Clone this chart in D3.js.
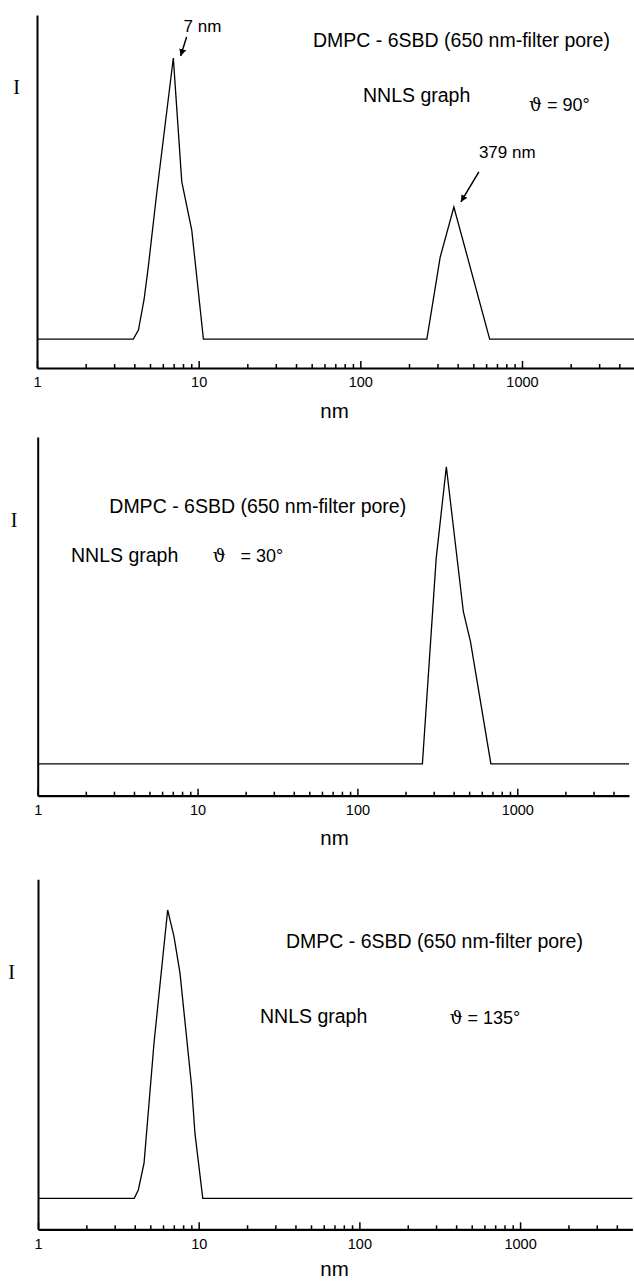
<!DOCTYPE html>
<html lang="en">
<head>
<meta charset="UTF-8">
<title>DMPC - 6SBD NNLS graphs</title>
<script src="https://cdn.jsdelivr.net/npm/d3@7"></script>
<style>
  body { margin: 0; background: #fff; }
  svg { display: block; }
  text { fill: #000; }
</style>
</head>
<body>
<div id="chart"></div>
<script>
// size axis (nm), log scale
const sizeDomain = [1, 5000];
const majorTicks = [1, 10, 100, 1000];

// intensity in arbitrary units, 0 = baseline
const theta90Size = [1, 3.94, 4.24, 4.59, 4.88, 5.5, 6.97, 7.86, 9.06, 10.7, 258, 312, 379, 631, 5000];
const theta90Intensity = [0, 0, 3.2, 13.9, 25.7, 51.8, 100, 56, 38.8, 0, 0, 29.2, 47, 0, 0];

const theta30Size = [1, 255, 311, 360, 460, 510, 684, 5000];
const theta30Intensity = [0, 0, 73.2, 105.8, 54.2, 43.5, 0, 0];

const theta135Size = [1, 3.97, 4.21, 4.57, 5.27, 6.41, 7.02, 7.65, 9.04, 9.48, 10.6, 5000];
const theta135Intensity = [0, 0, 3.0, 12.5, 55.2, 102.6, 93.1, 80.1, 39.7, 23.1, 0, 0];

const angleLabels = ["90°", "30°", "135°"];
const sampleLabel = "DMPC - 6SBD (650 nm-filter pore)";
const methodLabel = "NNLS graph";
const peakLabels = [{ size: 7, intensity: 100, text: "7 nm" }, { size: 379, intensity: 47, text: "379 nm" }];

const W = 634, H = 1281;
const sans = "'Liberation Sans', Arial, Helvetica, sans-serif";
const serif = "'Liberation Serif', 'Times New Roman', serif";

// panel layout
const panels = [
  { size: theta90Size, value: theta90Intensity, angle: angleLabels[0],
    xr: [37, 635], axisY: 368, topY: 15, yd: [-10.3, 115.3],
    iPos: [16.7, 94], title: [313, 47], method: [363, 101.7], theta: [529, 111], gap: " ",
    peaks: peakLabels },
  { size: theta30Size, value: theta30Intensity, angle: angleLabels[1],
    xr: [37.7, 629], axisY: 795.7, topY: 437, yd: [-11.3, 116.4],
    iPos: [14.2, 526.7], title: [109.3, 513.3], method: [71, 561.7], theta: [212.7, 561.7], gap: "   ",
    peaks: [] },
  { size: theta135Size, value: theta135Intensity, angle: angleLabels[2],
    xr: [38, 632.4], axisY: 1229.3, topY: 879.3, yd: [-11, 113.5],
    iPos: [11.7, 979], title: [286, 948.3], method: [260, 1023.3], theta: [449.7, 1024.3], gap: " ",
    peaks: [] }
];

const minorTicks = [];
for (let d = 1; d <= 1000; d *= 10)
  for (let m = 2; m <= 9; m++) if (d * m < sizeDomain[1]) minorTicks.push(d * m);

const svg = d3.select("#chart").append("svg")
  .attr("width", W).attr("height", H);

svg.append("defs").append("marker")
  .attr("id", "head")
  .attr("viewBox", "0 0 10 10")
  .attr("refX", 10).attr("refY", 5)
  .attr("markerWidth", 7).attr("markerHeight", 7)
  .attr("markerUnits", "userSpaceOnUse")
  .attr("orient", "auto")
  .append("path").attr("d", "M0,0L10,5L0,10z").attr("fill", "#000");

panels.forEach(p => {
  const g = svg.append("g");
  const x = d3.scaleLog().domain(sizeDomain).range(p.xr);
  const y = d3.scaleLinear().domain(p.yd).range([p.axisY, p.topY]);

  // y axis: bare line
  g.append("g")
    .attr("transform", `translate(${p.xr[0]},0)`)
    .call(d3.axisLeft(y).tickValues([]).tickSizeOuter(0))
    .select(".domain").attr("stroke-width", 2);

  // minor ticks
  g.append("g")
    .attr("transform", `translate(0,${p.axisY})`)
    .call(d3.axisBottom(x).tickValues(minorTicks).tickSize(-4).tickSizeOuter(0).tickFormat(""))
    .call(a => a.select(".domain").remove())
    .selectAll("line").attr("stroke-width", 1.5);

  // major ticks + labels
  const ax = g.append("g")
    .attr("transform", `translate(0,${p.axisY})`)
    .call(d3.axisBottom(x).tickValues(majorTicks).tickSize(-7).tickSizeOuter(0)
      .tickPadding(9).tickFormat(d3.format("d")));
  ax.select(".domain").attr("stroke-width", 2.2);
  ax.selectAll("line").attr("stroke-width", 1.5);
  ax.selectAll("text").attr("font-family", sans).attr("font-size", 14.5).attr("fill", "#000");

  // axis titles
  g.append("text")
    .attr("x", 334.5).attr("y", Math.min(p.axisY + 49.5, H - 5.5))
    .attr("text-anchor", "middle")
    .attr("font-family", sans).attr("font-size", 20.5)
    .text("nm");
  g.append("text")
    .attr("x", p.iPos[0]).attr("y", p.iPos[1])
    .attr("text-anchor", "middle")
    .attr("font-family", serif).attr("font-size", 20)
    .text("I");

  // distribution curve
  const pts = p.size.map((s, i) => [s, p.value[i]]);
  g.append("path")
    .datum(pts)
    .attr("fill", "none")
    .attr("stroke", "#000")
    .attr("stroke-width", 1.3)
    .attr("stroke-linejoin", "miter")
    .attr("d", d3.line().x(d => x(d[0])).y(d => y(d[1])));

  // annotations
  g.append("text")
    .attr("x", p.title[0]).attr("y", p.title[1])
    .attr("font-family", sans).attr("font-size", 19.5)
    .text(sampleLabel);
  g.append("text")
    .attr("x", p.method[0]).attr("y", p.method[1])
    .attr("font-family", sans).attr("font-size", 19.5)
    .text(methodLabel);
  const th = g.append("text")
    .attr("x", p.theta[0]).attr("y", p.theta[1])
    .attr("font-family", sans).attr("font-size", 18)
    .style("white-space", "pre");
  th.append("tspan").attr("font-family", "'DejaVu Serif', serif").attr("font-size", 18).text("ϑ");
  th.append("tspan").text(p.gap + "= " + p.angle);

  p.peaks.forEach(pk => {
    const px = x(pk.size), py = y(pk.intensity);
    const big = pk.size > 100;
    const tip = big ? [px + 7, py - 5] : [px + 7, py - 2];
    const tail = big ? [px + 25, py - 35] : [px + 13, py - 21];
    g.append("line")
      .attr("x1", tail[0]).attr("y1", tail[1])
      .attr("x2", tip[0]).attr("y2", tip[1])
      .attr("stroke", "#000").attr("stroke-width", 1.5)
      .attr("marker-end", "url(#head)");
    g.append("text")
      .attr("x", big ? px + 25 : px + 10)
      .attr("y", big ? py - 49 : py - 26.5)
      .attr("font-family", sans).attr("font-size", 17)
      .text(pk.text);
  });
});
</script>
</body>
</html>
